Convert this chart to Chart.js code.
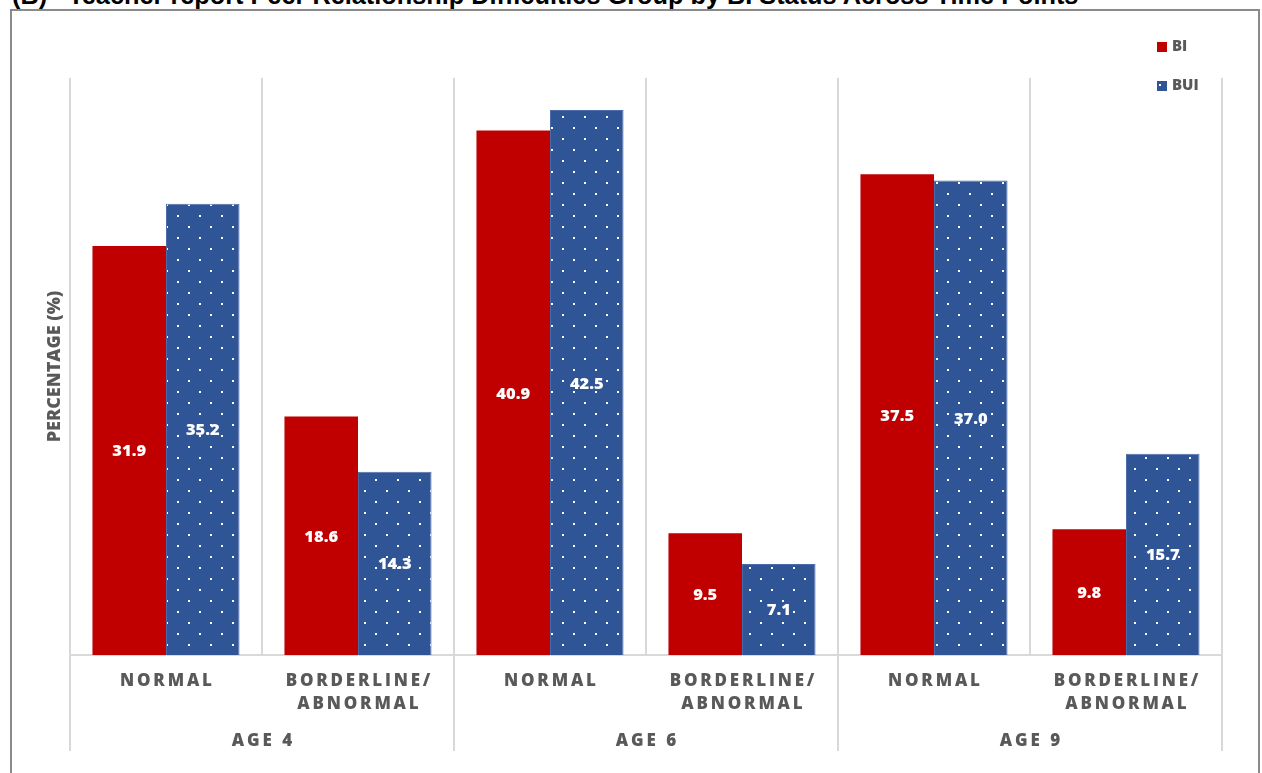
<!DOCTYPE html>
<html>
<head>
<meta charset="utf-8">
<script src="https://cdn.jsdelivr.net/npm/chart.js@4.4.1/dist/chart.umd.min.js"></script>
<style>
  html, body { margin: 0; padding: 0; background: #fff; overflow: hidden; }
  #wrap { position: relative; width: 1262px; height: 773px; overflow: hidden; }
  #title { position: absolute; left: 12px; top: -19px; line-height: 25px; font: bold 25.3px "Liberation Sans", Arial, sans-serif; white-space: pre; color: #000; }
  #frame { position: absolute; left: 10px; top: 9px; width: 1246px; height: 800px; border: 2px solid #8a8a8a; }
  #peerChart { position: absolute; left: 0; top: 0; }
</style>
</head>
<body>
<div id="wrap">
  <div id="title">(B)   Teacher report Peer Relationship Difficulties Group by BI Status Across Time Points</div>
  <div id="frame"></div>
  <canvas id="peerChart" width="1262" height="773"></canvas>
</div>
<script>
// categories: two outcome groups inside each age
const categoryLabels = [
  ['NORMAL'], ['BORDERLINE/', 'ABNORMAL'],
  ['NORMAL'], ['BORDERLINE/', 'ABNORMAL'],
  ['NORMAL'], ['BORDERLINE/', 'ABNORMAL']
];
const ageLabels = ['AGE 4', 'AGE 6', 'AGE 9'];
const seriesNames = ['BI', 'BUI'];
const biValues = [31.9, 18.6, 40.9, 9.5, 37.5, 9.8];
const buiValues = [35.2, 14.3, 42.5, 7.1, 37.0, 15.7];
const yTitle = 'PERCENTAGE (%)';

const RED = '#C00000';
const BLUE = '#2F5597';
const TEXT_GREY = '#595959';
const GRID = '#d9d9d9';

// blue fill with staggered white dots
function makeDotPattern() {
  const tile = document.createElement('canvas');
  tile.width = 22;
  tile.height = 22;
  const t = tile.getContext('2d');
  t.fillStyle = BLUE;
  t.fillRect(0, 0, 22, 22);
  t.fillStyle = '#ffffff';
  t.fillRect(12, 6, 2, 2);
  t.fillRect(1, 17, 2, 2);
  return t.createPattern(tile, 'repeat');
}

// draws text with extra space between letters, centred on cx
function spacedText(ctx, text, cx, y, gap) {
  const chars = [...text];
  const widths = chars.map(c => ctx.measureText(c).width);
  const total = widths.reduce((a, b) => a + b, 0) + gap * (chars.length - 1);
  let x = cx - total / 2;
  ctx.textAlign = 'left';
  chars.forEach((c, i) => {
    ctx.fillText(c, x, y);
    x += widths[i] + gap;
  });
}

const peerLabelsPlugin = {
  id: 'peerLabels',
  afterDatasetsDraw(chart) {
    const ctx = chart.ctx;
    ctx.save();
    ctx.font = '800 16.5px "Open Sans"';
    ctx.fillStyle = '#ffffff';
    ctx.textAlign = 'center';
    ctx.textBaseline = 'alphabetic';
    chart.data.datasets.forEach((ds, di) => {
      chart.getDatasetMeta(di).data.forEach((bar, i) => {
        const mid = (bar.y + bar.base) / 2;
        ctx.fillText(ds.data[i].toFixed(1), bar.x, mid + 6);
      });
    });
    ctx.restore();
  },
  afterDraw(chart) {
    const ctx = chart.ctx;
    const xs = chart.scales.x;
    const area = chart.chartArea;
    const half = (xs.getPixelForValue(1) - xs.getPixelForValue(0)) / 2;

    ctx.save();

    // separators running down through the label rows
    ctx.strokeStyle = GRID;
    ctx.lineWidth = 2;
    const seps = [0, 2, 4].map(i => xs.getPixelForValue(i) - half);
    seps.push(xs.getPixelForValue(5) + half);
    seps.forEach(x => {
      ctx.beginPath();
      ctx.moveTo(x, area.bottom);
      ctx.lineTo(x, 751);
      ctx.stroke();
    });

    // category labels
    ctx.fillStyle = TEXT_GREY;
    ctx.textBaseline = 'alphabetic';
    ctx.font = '800 17px "Open Sans"';
    chart.data.labels.forEach((lines, i) => {
      const cx = xs.getPixelForValue(i);
      lines.forEach((line, li) => spacedText(ctx, line, cx, 686 + li * 23, 2.8));
    });

    // age labels
    ageLabels.forEach((txt, g) => {
      const cx = (xs.getPixelForValue(g * 2) + xs.getPixelForValue(g * 2 + 1)) / 2;
      spacedText(ctx, txt, cx, 746, 3);
    });

    // y axis title
    ctx.save();
    ctx.translate(60, (area.top + area.bottom) / 2);
    ctx.rotate(-Math.PI / 2);
    ctx.font = '800 18px "Open Sans"';
    ctx.textAlign = 'center';
    ctx.fillText(yTitle, 0, 0);
    ctx.restore();

    // legend
    ctx.font = '800 15px "Open Sans"';
    ctx.textAlign = 'left';
    ctx.fillStyle = RED;
    ctx.fillRect(1157, 42, 10, 10);
    ctx.fillStyle = BLUE;
    ctx.fillRect(1157, 81, 10, 10);
    ctx.fillStyle = '#ffffff';
    ctx.fillRect(1159, 84, 2, 2);
    ctx.fillStyle = TEXT_GREY;
    ctx.fillText(chart.data.datasets[0].label, 1172, 51);
    ctx.fillText(chart.data.datasets[1].label, 1172, 90);

    ctx.restore();
  }
};

const peerCtx = document.getElementById('peerChart').getContext('2d');
new Chart(peerCtx, {
  type: 'bar',
  data: {
    labels: categoryLabels,
    datasets: [
      {
        label: seriesNames[0],
        data: biValues,
        backgroundColor: RED,
        borderWidth: 0
      },
      {
        label: seriesNames[1],
        data: buiValues,
        backgroundColor: makeDotPattern(),
        borderColor: '#4d6ba6',
        borderWidth: 1
      }
    ]
  },
  options: {
    responsive: false,
    animation: false,
    categoryPercentage: 0.766,
    barPercentage: 1,
    layout: { padding: { left: 70, right: 40, top: 78, bottom: 118 } },
    plugins: {
      legend: { display: false },
      tooltip: { enabled: false }
    },
    scales: {
      x: {
        grid: { color: GRID, lineWidth: 2, drawTicks: false, offset: true },
        border: { color: GRID, width: 2 },
        ticks: { display: false }
      },
      y: { display: false, min: 0, max: 45 }
    }
  },
  plugins: [peerLabelsPlugin]
});
</script>
</body>
</html>
